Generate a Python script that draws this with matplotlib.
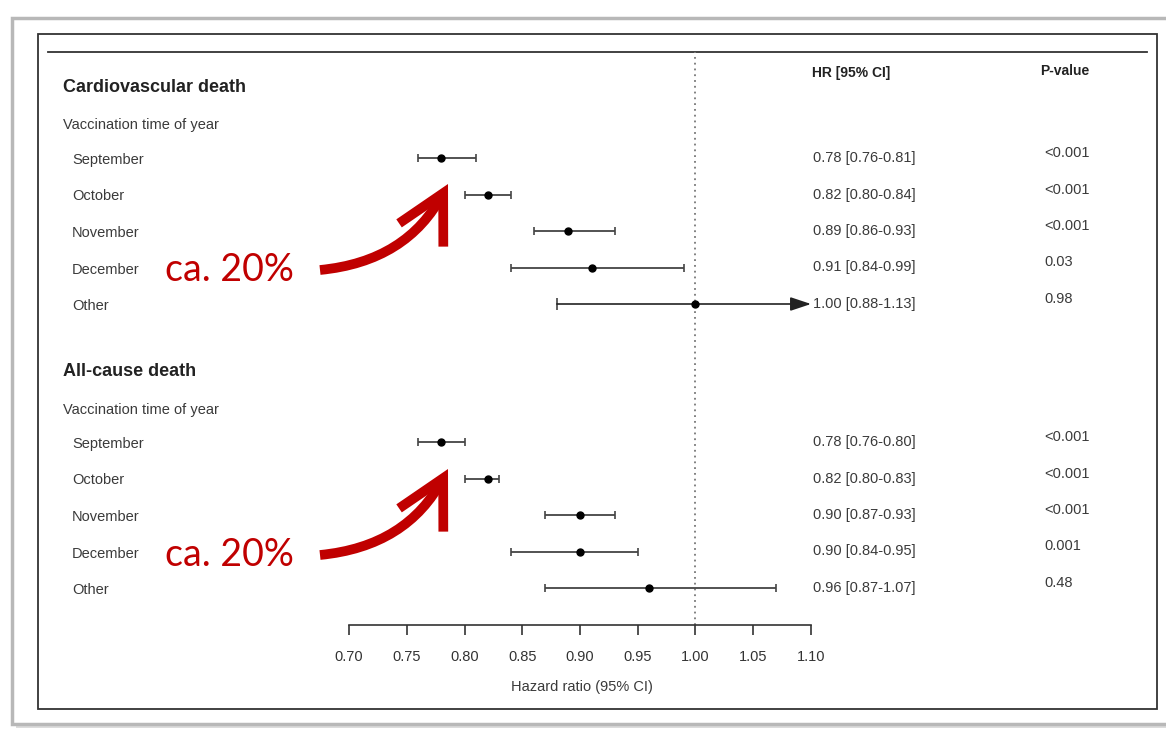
import numpy as np
import matplotlib
matplotlib.use('Agg')
import matplotlib.pyplot as plt
from matplotlib.patches import Rectangle
from matplotlib.transforms import blended_transform_factory

# data
months = ["September", "October", "November", "December", "Other"]

cv_hr = [0.78, 0.82, 0.89, 0.91, 1.00]
cv_lo = [0.76, 0.80, 0.86, 0.84, 0.88]
cv_hi = [0.81, 0.84, 0.93, 0.99, 1.13]
cv_p = ["<0.001", "<0.001", "<0.001", "0.03", "0.98"]

ac_hr = [0.78, 0.82, 0.90, 0.90, 0.96]
ac_lo = [0.76, 0.80, 0.87, 0.84, 0.87]
ac_hi = [0.80, 0.83, 0.93, 0.95, 1.07]
ac_p = ["<0.001", "<0.001", "<0.001", "0.001", "0.48"]

x_ticks = [0.70, 0.75, 0.80, 0.85, 0.90, 0.95, 1.00, 1.05, 1.10]

plt.rcParams['font.family'] = ['Liberation Sans', 'DejaVu Sans']

W, H = 1166, 730
fig = plt.figure(figsize=(W / 100, H / 100), dpi=100)


def fx(px):
    return px / W


def fy(py):
    return 1 - py / H


# card + frame (behind the axes)
fig.patches.append(Rectangle((fx(16), fy(728)), fx(1170), (710) / H, transform=fig.transFigure,
                             facecolor='#dcdcdc', edgecolor='none', zorder=-3))
fig.patches.append(Rectangle((fx(12), fy(724)), fx(1170), (706) / H, transform=fig.transFigure,
                             facecolor='white', edgecolor='#b8b8b8', lw=2.5, zorder=-2))
fig.patches.append(Rectangle((fx(38), fy(709)), fx(1157 - 38), (709 - 34) / H, transform=fig.transFigure,
                             facecolor='none', edgecolor='#333333', lw=1.3, zorder=-1))
fig.add_artist(plt.Line2D([fx(48), fx(1147)], [fy(52), fy(52)], transform=fig.transFigure,
                          color='#333333', lw=1.3, zorder=-1))

# forest axes: x in hazard ratio, y in pixel rows
ax = fig.add_axes([fx(349), fy(625), fx(811 - 349), (625 - 52) / H])
ax.set_xlim(0.70, 1.10)
ax.set_ylim(625, 52)
ax.patch.set_alpha(0)
for s in ['left', 'right', 'top']:
    ax.spines[s].set_visible(False)
ax.spines['bottom'].set_color('#333333')
ax.spines['bottom'].set_linewidth(1.2)
ax.set_yticks([])
ax.set_xticks(x_ticks)
ax.set_xticklabels([f"{t:.2f}" for t in x_ticks])
ax.tick_params(axis='x', direction='out', length=7, width=1.2, color='#333333',
               pad=11, labelsize=10.5, labelcolor='#333333')

ax.axvline(1.0, color='#777777', lw=1.3, ls=(0, (1, 2.2)), zorder=1)

cv_y = 158 + 36.5 * np.arange(len(months))
ac_y = 442 + 36.5 * np.arange(len(months))

lab = blended_transform_factory(fig.transFigure, ax.transData)
tc = '#3a3a3a'


def block(ys, hr, lo, hi, pv, title, title_y):
    fig.text(fx(63), fy(title_y), title, fontsize=13, fontweight='bold', color='#222222', va='center')
    fig.text(fx(63), fy(title_y + 38), "Vaccination time of year", fontsize=10.5, color=tc, va='center')
    xmax = ax.get_xlim()[1]
    for y, m, h, l, u, p in zip(ys, months, hr, lo, hi, pv):
        ax.text(fx(72), y + 2, m, transform=lab, fontsize=10.5, color=tc, va='center')
        if u > xmax:
            ax.plot([l], [y], marker='|', ms=8, mew=1.2, color='#444444', clip_on=False)
            ax.annotate('', xy=(xmax, y), xytext=(l, y),
                        arrowprops=dict(arrowstyle='-|>,head_length=0.9,head_width=0.3',
                                        color='#222222', lw=1.2, shrinkA=0, shrinkB=0,
                                        mutation_scale=14))
            ax.plot([h], [y], 'o', ms=5, color='black', zorder=3)
        else:
            ax.errorbar([h], [y], xerr=[[h - l], [u - h]], fmt='o', ms=5, color='black',
                        ecolor='#444444', elinewidth=1.3, capsize=3, capthick=1.2, zorder=3)
        ax.text(fx(813), y, f"{h:.2f} [{l:.2f}-{u:.2f}]", transform=lab, fontsize=10.5,
                color=tc, va='center')
        ax.text(fx(1044), y - 5, p, transform=lab, fontsize=10.5, color=tc, va='center')


block(cv_y, cv_hr, cv_lo, cv_hi, cv_p, "Cardiovascular death", 87)
block(ac_y, ac_hr, ac_lo, ac_hi, ac_p, "All-cause death", 372)

fig.text(fx(812), fy(73), "HR [95% CI]", fontsize=10, fontweight='bold', color='#222222', va='center')
fig.text(fx(1040), fy(71), "P-value", fontsize=10, fontweight='bold', color='#222222', va='center')
fig.text(fx(582), fy(687), "Hazard ratio (95% CI)", fontsize=10.5, color=tc, ha='center', va='center')

# red annotations
red = '#C00000'
for ty, tail, tip in [(270, (320, 270), (448, 184)), (555, (320, 555), (448, 469))]:
    fig.text(fx(165), fy(ty), "ca. 20%", fontsize=27, color=red, family='Lato', va='center')
    ax.annotate('', xy=(tip[0], H - tip[1]), xytext=(tail[0], H - tail[1]),
                xycoords='figure pixels', textcoords='figure pixels',
                arrowprops=dict(arrowstyle='->,head_length=1.7,head_width=0.9', color=red,
                                lw=7, mutation_scale=20, shrinkA=0, shrinkB=0,
                                connectionstyle='arc3,rad=0.27', capstyle='butt',
                                joinstyle='miter'))

fig.savefig('out.png', dpi=100)
